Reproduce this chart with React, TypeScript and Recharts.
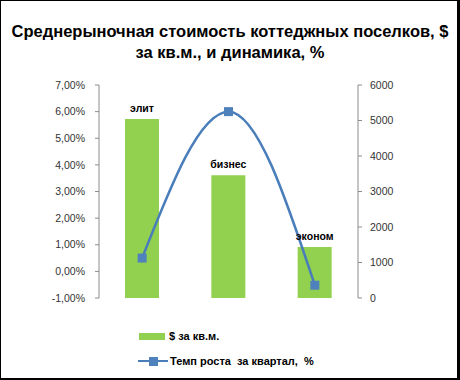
import React from "react";
import { ComposedChart, Bar, Line, XAxis, YAxis, LabelList } from "recharts";

const categories = ["элит", "бизнес", "эконом"];
const pricePerSqm = [5040, 3460, 1440];
const growthPct = [0.5, 6.0, -0.52];
const leftTicks = [-1, 0, 1, 2, 3, 4, 5, 6, 7];
const rightTicks = [0, 1000, 2000, 3000, 4000, 5000, 6000];

const titleLine1 = "Среднерыночная стоимость коттеджных поселков, $";
const titleLine2 = "за кв.м., и динамика, %";
const barLegend = "$ за кв.м.";
const lineLegend = "Темп роста  за квартал,  %";

const data = categories.map((c, i) => ({
  cat: c,
  price: pricePerSqm[i],
  growth: growthPct[i],
}));

const FONT = "'Liberation Sans', Arial, sans-serif";
const GREEN = "#92D050";
const BLUE = "#4A7EBB";
const AXIS = "#8C8C8C";

const SquareDot = (props: any) => {
  const { cx, cy, index } = props;
  if (cx == null || cy == null) return <g key={index} />;
  return <rect key={index} x={cx - 4.5} y={cy - 4.5} width={9} height={9} fill="#4F81BD" />;
};

export default function App() {
  return (
    <div style={{ position: "absolute", left: 0, top: 0, width: 460, height: 380, background: "#fff", fontFamily: FONT }}>
      <div
        style={{
          position: "absolute",
          left: 0,
          top: 21,
          width: 460,
          textAlign: "center",
          fontWeight: "bold",
          fontSize: 16.5,
          lineHeight: "21px",
          color: "#000",
        }}
      >
        <div>{titleLine1}</div>
        <div>{titleLine2}</div>
      </div>
      <div style={{ position: "absolute", left: 0, top: 0 }}>
        <ComposedChart width={460} height={380} data={data} margin={{ top: 85, right: 0, bottom: 82, left: 0 }}>
          <XAxis dataKey="cat" hide />
          <YAxis
            yAxisId="left"
            orientation="left"
            width={99}
            domain={[-1, 7]}
            ticks={leftTicks}
            interval={0}
            tickFormatter={(v: number) => v.toFixed(2).replace(".", ",") + "%"}
            axisLine={{ stroke: AXIS }}
            tickLine={{ stroke: AXIS }}
            tickSize={4}
            tickMargin={10}
            tick={{ fill: "#333", fontSize: 10.5, fontFamily: FONT }}
          />
          <YAxis
            yAxisId="right"
            orientation="right"
            width={102}
            domain={[0, 6000]}
            ticks={rightTicks}
            interval={0}
            axisLine={{ stroke: AXIS }}
            tickLine={{ stroke: AXIS }}
            tickSize={4}
            tickMargin={8}
            tick={{ fill: "#333", fontSize: 10.5, fontFamily: FONT }}
          />
          <Bar yAxisId="right" dataKey="price" fill={GREEN} barSize={34} isAnimationActive={false}>
            <LabelList
              dataKey="cat"
              position="top"
              offset={7}
              style={{ fontSize: 10.5, fontWeight: "bold", fill: "#000", fontFamily: FONT }}
            />
          </Bar>
          <Line
            yAxisId="left"
            type="monotone"
            dataKey="growth"
            stroke={BLUE}
            strokeWidth={2.5}
            dot={SquareDot}
            activeDot={false}
            isAnimationActive={false}
          />
        </ComposedChart>
      </div>
      <div style={{ position: "absolute", left: 139, top: 333, width: 26, height: 7, background: GREEN }} />
      <div style={{ position: "absolute", left: 169, top: 329, fontSize: 11, fontWeight: "bold", lineHeight: "14px", color: "#000", whiteSpace: "pre" }}>
        {barLegend}
      </div>
      <div style={{ position: "absolute", left: 138, top: 360, width: 30, height: 2, background: BLUE }} />
      <div style={{ position: "absolute", left: 148.5, top: 356.5, width: 9, height: 9, background: "#4F81BD" }} />
      <div style={{ position: "absolute", left: 170, top: 354, fontSize: 11, fontWeight: "bold", lineHeight: "14px", color: "#000", whiteSpace: "pre" }}>
        {lineLegend}
      </div>
      <div
        style={{
          position: "absolute",
          left: 0,
          top: 0,
          width: 460,
          height: 380,
          boxSizing: "border-box",
          borderTop: "1px solid #000",
          borderLeft: "1px solid #000",
          borderBottom: "2px solid #000",
          borderRight: "3px solid #000",
          pointerEvents: "none",
        }}
      />
    </div>
  );
}
